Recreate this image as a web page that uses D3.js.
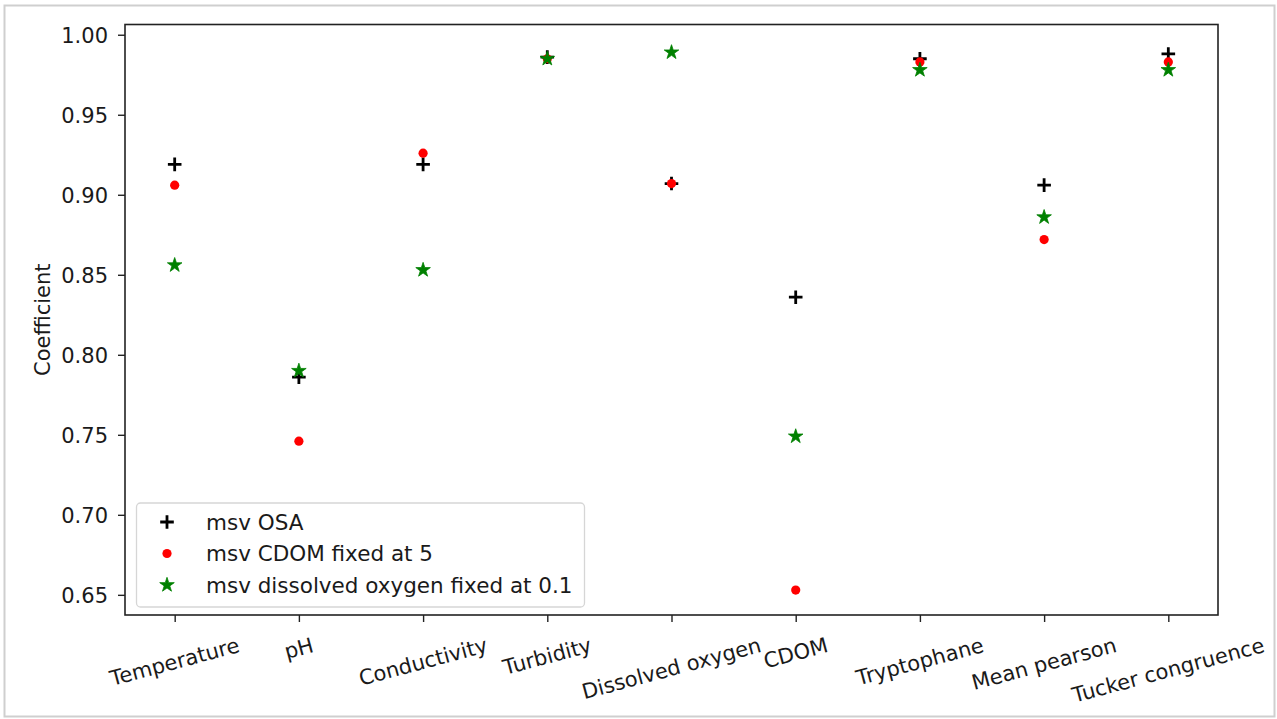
<!DOCTYPE html>
<html>
<head>
<meta charset="utf-8">
<script src="https://cdn.jsdelivr.net/npm/d3@7"></script>
<style>
  html, body { margin: 0; padding: 0; background: #fff; }
  svg { display: block; }
  text { font-family: "DejaVu Sans", sans-serif; fill: #1a1a1a; }
</style>
</head>
<body>
<svg id="chart" width="1277" height="719"></svg>
<script>
const categories = ["Temperature", "pH", "Conductivity", "Turbidity", "Dissolved oxygen", "CDOM", "Tryptophane", "Mean pearson", "Tucker congruence"];
const msvOSA   = [0.919, 0.786, 0.919, 0.986, 0.907, 0.836, 0.985, 0.906, 0.988];
const msvCDOM  = [0.906, 0.746, 0.926, 0.985, 0.907, 0.653, 0.983, 0.872, 0.983];
const msvDO    = [0.856, 0.790, 0.853, 0.985, 0.989, 0.749, 0.978, 0.886, 0.978];
const yTicks = [0.65, 0.70, 0.75, 0.80, 0.85, 0.90, 0.95, 1.00];
const seriesNames = ["msv OSA", "msv CDOM fixed at 5", "msv dissolved oxygen fixed at 0.1"];
const yLabel = "Coefficient";

const svg = d3.select("#chart");
const FS = 21;
const LFS = 21.5;
const L = 125, R = 1218, T = 24.5, B = 615;

// outer border
svg.append("rect").attr("x", 4.5).attr("y", 5.5).attr("width", 1270).attr("height", 711)
  .attr("fill", "#fff").attr("stroke", "#cfcfcf").attr("stroke-width", 2);

const x = d3.scaleLinear().domain([-0.4, categories.length - 1 + 0.4]).range([L, R]);
const y = d3.scaleLinear().domain([0.6374, 1.0064]).range([B, T]);

// y axis
const yAxis = svg.append("g").attr("transform", `translate(${L},0)`)
  .call(d3.axisLeft(y).tickValues(yTicks).tickFormat(d3.format(".2f")).tickSize(7).tickPadding(10));
yAxis.select(".domain").remove();
yAxis.selectAll("line").attr("stroke", "#222").attr("stroke-width", 1.4);
yAxis.selectAll("text").attr("font-size", FS).attr("font-family", "DejaVu Sans").attr("fill", "#1a1a1a").attr("dy", "0.36em");

// x axis ticks
const xAxis = svg.append("g").attr("transform", `translate(0,${B})`)
  .call(d3.axisBottom(x).tickValues(d3.range(categories.length)).tickFormat("").tickSize(7));
xAxis.select(".domain").remove();
xAxis.selectAll("line").attr("stroke", "#222").attr("stroke-width", 1.4);

// x labels rotated 15deg, bbox centered on tick, top aligned
const ang = 15 * Math.PI / 180;
const topY = 633;
const lineH = FS * 1.164;
categories.forEach((c, i) => {
  const g = svg.append("g");
  const t = g.append("text").text(c).attr("font-size", FS).attr("text-anchor", "middle")
    .attr("dominant-baseline", "central");
  const W = t.node().getComputedTextLength();
  const Hb = W * Math.sin(ang) + lineH * Math.cos(ang);
  g.attr("transform", `translate(${x(i)},${topY + Hb / 2}) rotate(-15)`);
});

// y label
svg.append("text").text(yLabel).attr("font-size", FS).attr("text-anchor", "middle")
  .attr("transform", `translate(50,${(T + B) / 2}) rotate(-90)`);

// markers
const plus = (g, cx, cy, h) => {
  g.append("path").attr("d", `M${cx - h},${cy}H${cx + h}M${cx},${cy - h}V${cy + h}`)
    .attr("stroke", "#000").attr("stroke-width", 2.8).attr("fill", "none");
};
const dot = (g, cx, cy) => g.append("circle").attr("cx", cx).attr("cy", cy).attr("r", 4.6).attr("fill", "#ff0000");
const starPath = d3.symbol().type(d3.symbolStar).size(66)();
const star = (g, cx, cy) => g.append("path").attr("d", starPath).attr("transform", `translate(${cx},${cy})`)
  .attr("fill", "#008000").attr("stroke", "#008000").attr("stroke-width", 0.8).attr("stroke-linejoin", "miter");

const pts = svg.append("g");
msvOSA.forEach((v, i) => plus(pts, x(i), y(v), 6.8));
msvCDOM.forEach((v, i) => dot(pts, x(i), y(v)));
msvDO.forEach((v, i) => star(pts, x(i), y(v)));

// frame
svg.append("rect").attr("x", L).attr("y", T).attr("width", R - L).attr("height", B - T)
  .attr("fill", "none").attr("stroke", "#222").attr("stroke-width", 1.6);

// legend
const lg = svg.append("g");
lg.append("rect").attr("x", 136.5).attr("y", 503).attr("width", 448).attr("height", 104).attr("rx", 4)
  .attr("fill", "#fff").attr("fill-opacity", 0.8).attr("stroke", "#d6d6d6").attr("stroke-width", 1.3);
const rowY = [522, 553.5, 585];
const mx = 167;
plus(lg, mx, rowY[0], 6.8);
dot(lg, mx, rowY[1]);
star(lg, mx, rowY[2]);
seriesNames.forEach((n, i) => {
  lg.append("text").text(n).attr("x", 206).attr("y", rowY[i]).attr("dy", "0.36em").attr("font-size", LFS);
});
</script>
</body>
</html>
